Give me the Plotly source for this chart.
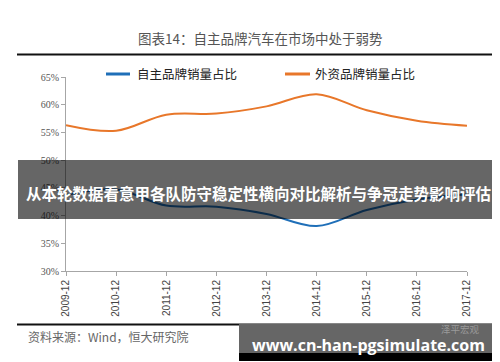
import plotly.graph_objects as go

categories = ["2009-12", "2010-12", "2011-12", "2012-12", "2013-12",
              "2014-12", "2015-12", "2016-12", "2017-12"]
foreign_share = [56.3, 55.3, 58.2, 58.4, 59.7, 61.9, 59.0, 57.1, 56.2]
domestic_share = [43.7, 44.7, 41.8, 41.6, 40.3, 38.1, 41.0, 42.9, 43.8]
y_ticks = [30, 35, 40, 45, 50, 55, 60, 65]
y_tick_labels = ["30%", "35%", "40%", "45%", "50%", "55%", "60%", "65%"]

W, H = 500, 362
L, R, T, B = 58, 459, 69, 263


def px(x):
    return (x - L) / (R - L)


def py(y):
    return (B - y) / (B - T)


fig = go.Figure()
fig.add_trace(go.Scatter(x=categories, y=domestic_share, mode="lines",
                         line=dict(color="#1f6fb8", width=2, shape="spline"),
                         name="自主品牌销量占比", showlegend=False))
fig.add_trace(go.Scatter(x=categories, y=foreign_share, mode="lines",
                         line=dict(color="#e8772a", width=2, shape="spline"),
                         name="外资品牌销量占比", showlegend=False))

shapes = [
    # title rule
    dict(type="line", xref="paper", yref="paper", x0=px(9), x1=px(494), y0=py(46.5), y1=py(46.5),
         line=dict(color="#111111", width=2)),
    # footer rule
    dict(type="line", xref="paper", yref="paper", x0=px(9), x1=px(494), y0=py(316.5), y1=py(316.5),
         line=dict(color="#111111", width=2)),
    # legend lines
    dict(type="line", xref="paper", yref="paper", x0=px(98), x1=px(122), y0=py(66), y1=py(66),
         line=dict(color="#1f6fb8", width=3)),
    dict(type="line", xref="paper", yref="paper", x0=px(277), x1=px(302), y0=py(66), y1=py(66),
         line=dict(color="#e8772a", width=3)),
    # overlay band
    dict(type="rect", xref="paper", yref="paper", x0=px(10), x1=px(493), y0=py(211), y1=py(152),
         fillcolor="rgba(0,0,0,0.6)", line=dict(width=0), layer="above"),
    # bottom box
    dict(type="rect", xref="paper", yref="paper", x0=px(231), x1=px(494), y0=py(345), y1=py(316),
         fillcolor="#666666", line=dict(width=0), layer="above"),
    dict(type="rect", xref="paper", yref="paper", x0=px(231), x1=px(494), y0=py(353), y1=py(345),
         fillcolor="#000000", line=dict(width=0), layer="above"),
]

annotations = [
    dict(text="图表14：自主品牌汽车在市场中处于弱势", x=px(252), y=py(30), xref="paper", yref="paper",
         showarrow=False, xanchor="center", yanchor="middle",
         font=dict(family="Noto Sans CJK SC", size=13.5, color="#555555")),
    dict(text="自主品牌销量占比", x=px(127), y=py(65), xref="paper", yref="paper",
         showarrow=False, xanchor="left", yanchor="middle",
         font=dict(family="Noto Sans CJK SC", size=12.5, color="#222222")),
    dict(text="外资品牌销量占比", x=px(305), y=py(65), xref="paper", yref="paper",
         showarrow=False, xanchor="left", yanchor="middle",
         font=dict(family="Noto Sans CJK SC", size=12.5, color="#222222")),
    dict(text="资料来源：Wind，恒大研究院", x=px(18), y=py(328), xref="paper", yref="paper",
         showarrow=False, xanchor="left", yanchor="middle",
         font=dict(family="Noto Sans CJK SC", size=12, color="#666666")),
    dict(text="<b>从本轮数据看意甲各队防守稳定性横向对比解析与争冠走势影响评估</b>",
         x=px(251), y=py(185), xref="paper", yref="paper",
         showarrow=False, xanchor="center", yanchor="middle",
         font=dict(family="Noto Sans CJK SC", size=15.5, color="#ffffff")),
    dict(text="泽平宏观", x=px(474), y=py(321), xref="paper", yref="paper",
         showarrow=False, xanchor="right", yanchor="middle",
         font=dict(family="Noto Sans CJK SC", size=9.5, color="#9a9a9a")),
    dict(text="<b>www.cn-han-pgsimulate.com</b>", x=px(360), y=py(337), xref="paper", yref="paper",
         showarrow=False, xanchor="center", yanchor="middle",
         font=dict(family="Open Sans", size=16, color="#ffffff")),
]

fig.update_layout(
    width=W, height=H,
    margin=dict(l=L, r=W - R, t=T, b=H - B, pad=0),
    paper_bgcolor="white", plot_bgcolor="white",
    shapes=shapes, annotations=annotations,
    showlegend=False,
    xaxis=dict(type="category", range=[0, 8], showgrid=False, zeroline=False,
               showline=True, linecolor="#a6a6a6", linewidth=1,
               ticks="outside", ticklen=4, tickcolor="#a6a6a6", tickangle=-90,
               tickfont=dict(family="Liberation Sans", size=10, color="#444444")),
    yaxis=dict(range=[30, 65], tickvals=y_ticks, ticktext=y_tick_labels,
               showgrid=False, zeroline=False, showline=True, linecolor="#a6a6a6", linewidth=1,
               ticks="outside", ticklen=4, tickcolor="#a6a6a6",
               tickfont=dict(family="Liberation Serif", size=10, color="#555555")),
)

fig.write_html("out.html")
